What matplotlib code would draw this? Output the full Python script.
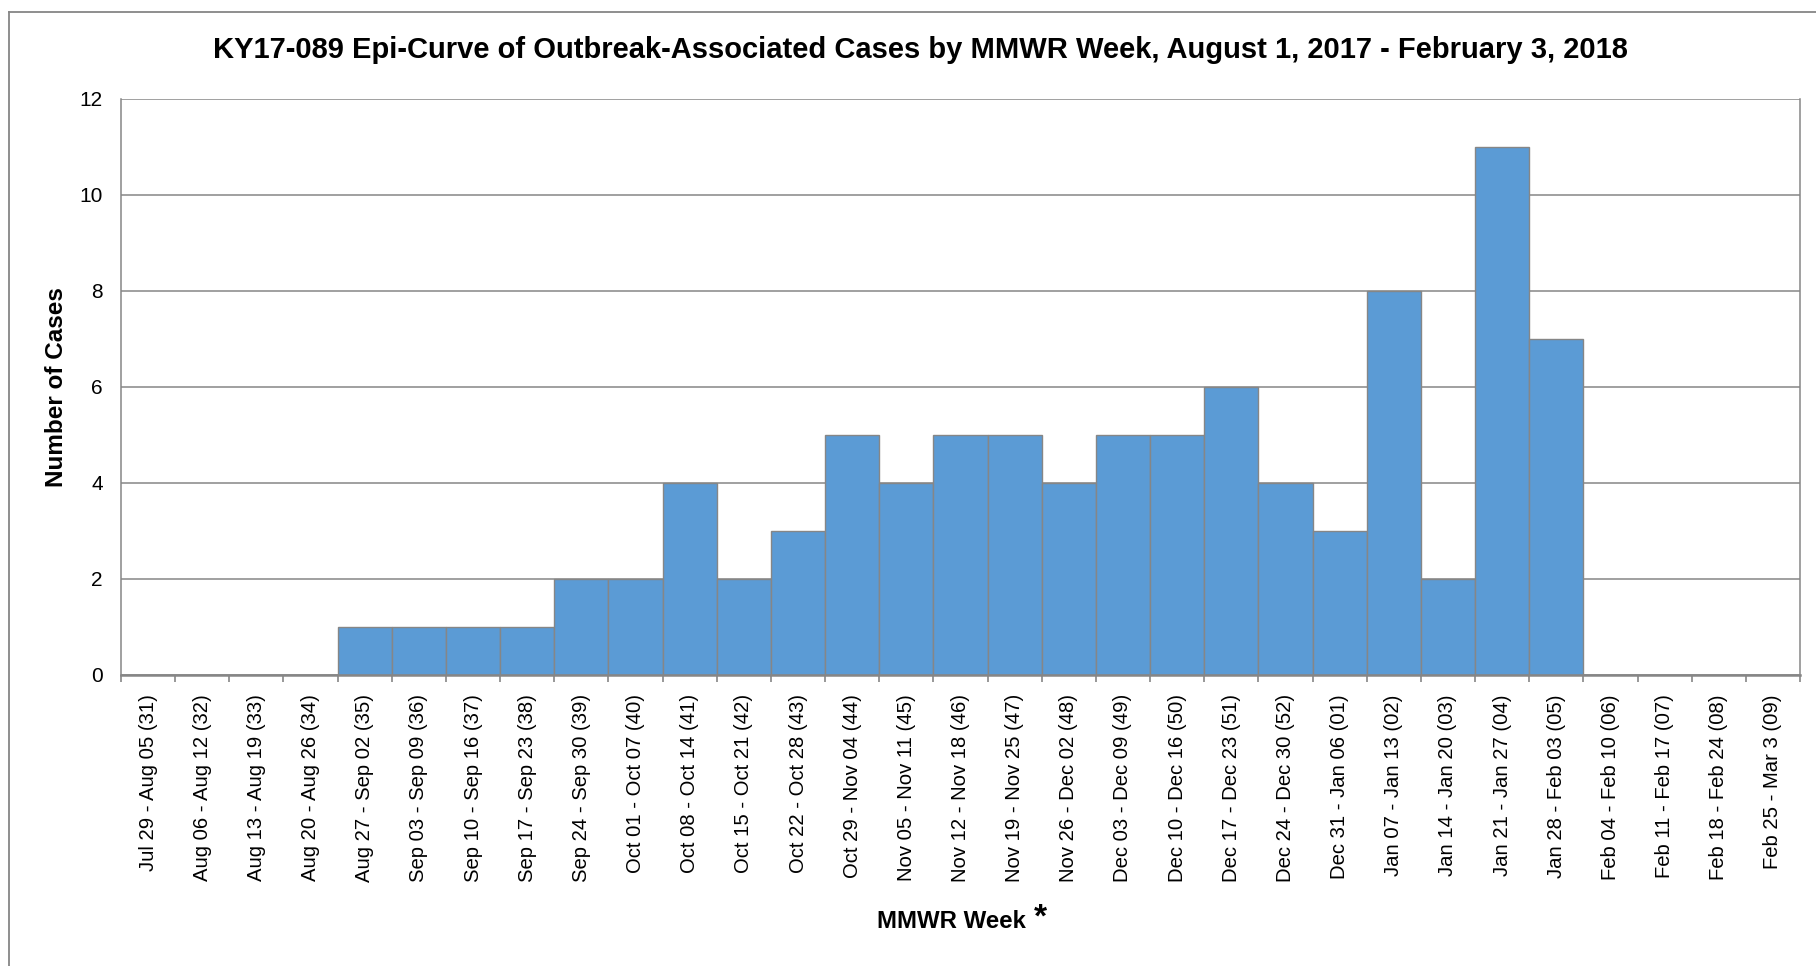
import numpy as np
import matplotlib
matplotlib.use('Agg')
import matplotlib.pyplot as plt
from matplotlib.lines import Line2D

plt.rcParams['font.family'] = ['Liberation Sans', 'DejaVu Sans']

semanas = ['Jul 29 - Aug 05 (31)', 'Aug 06 - Aug 12 (32)', 'Aug 13 - Aug 19 (33)', 'Aug 20 - Aug 26 (34)',
           'Aug 27 - Sep 02 (35)', 'Sep 03 - Sep 09 (36)', 'Sep 10 - Sep 16 (37)', 'Sep 17 - Sep 23 (38)',
           'Sep 24 - Sep 30 (39)', 'Oct 01 - Oct 07 (40)', 'Oct 08 - Oct 14 (41)', 'Oct 15 - Oct 21 (42)',
           'Oct 22 - Oct 28 (43)', 'Oct 29 - Nov 04 (44)', 'Nov 05 - Nov 11 (45)', 'Nov 12 - Nov 18 (46)',
           'Nov 19 - Nov 25 (47)', 'Nov 26 - Dec 02 (48)', 'Dec 03 - Dec 09 (49)', 'Dec 10 - Dec 16 (50)',
           'Dec 17 - Dec 23 (51)', 'Dec 24 - Dec 30 (52)', 'Dec 31 - Jan 06 (01)', 'Jan 07 - Jan 13 (02)',
           'Jan 14 - Jan 20 (03)', 'Jan 21 - Jan 27 (04)', 'Jan 28 - Feb 03 (05)', 'Feb 04 - Feb 10 (06)',
           'Feb 11 - Feb 17 (07)', 'Feb 18 - Feb 24 (08)', 'Feb 25 - Mar 3 (09)']
casos = [0, 0, 0, 0, 1, 1, 1, 1, 2, 2, 4, 2, 3, 5, 4, 5, 5, 4, 5, 5, 6, 4, 3, 8, 2, 11, 7, 0, 0, 0, 0]
yticks = [0, 2, 4, 6, 8, 10, 12]

W, H = 1816, 966
gris = '#868686'
fig = plt.figure(figsize=(W/100, H/100), dpi=100)
ax = fig.add_axes([121/W, 1-674.7/H, (1800-121)/W, (674.7-98.7)/H])

x = np.arange(len(semanas))
ax.set_axisbelow(True)
ax.bar(x, casos, width=1.0, color='#5B9BD5', edgecolor=gris, linewidth=1.0)

ax.set_xlim(-0.5, len(semanas)-0.5)
ax.set_ylim(0, 12)
ax.set_yticks(yticks)
ax.yaxis.grid(True, color=gris, linewidth=1.1)
ax.tick_params(axis='y', length=0, pad=13, labelsize=15)
ax.set_xticks(x)
ax.set_xticklabels(semanas, rotation=90, fontsize=14.6)
ax.tick_params(axis='x', which='major', length=0, pad=14)
ax.set_xticks(np.arange(len(semanas)+1)-0.5, minor=True)
ax.tick_params(axis='x', which='minor', length=5, width=1.2, color=gris, direction='out')
for s in ax.spines.values():
    s.set_color(gris)
    s.set_linewidth(1.1)
ax.spines['bottom'].set_linewidth(1.8)
ax.spines['top'].set_visible(False)

fig.text(920/W, 1-50/H, 'KY17-089 Epi-Curve of Outbreak-Associated Cases by MMWR Week, August 1, 2017 - February 3, 2018',
         ha='center', va='center', fontsize=21, fontweight='bold')
fig.text(57/W, 1-387/H, 'Number of Cases', rotation=90, ha='center', va='center', fontsize=17.5, fontweight='bold')
fig.text(951/W, 1-921/H, 'MMWR Week', ha='center', va='center', fontsize=17.3, fontweight='bold')
fig.text(1040/W, 1-918/H, '*', ha='center', va='center', fontsize=24, fontweight='bold')

# marco exterior (solo se ve arriba y a la izquierda)
fig.add_artist(Line2D([9/W, 9/W], [0, 1-12/H], transform=fig.transFigure, color=gris, linewidth=1.3))
fig.add_artist(Line2D([9/W, 1], [1-12/H, 1-12/H], transform=fig.transFigure, color=gris, linewidth=1.3))

plt.savefig('out.png', dpi=100)
